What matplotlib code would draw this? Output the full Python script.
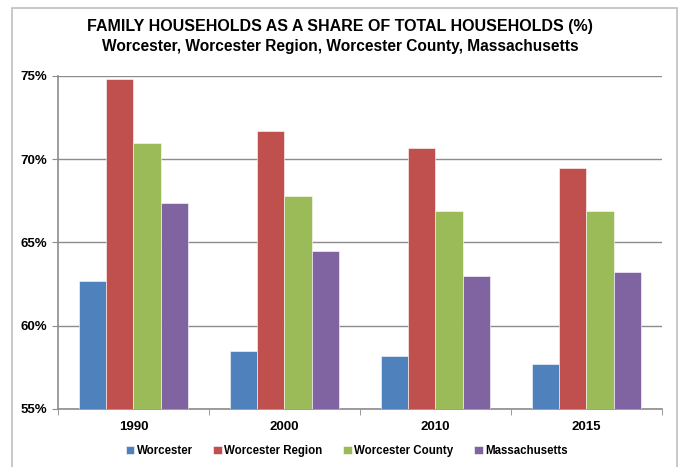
import numpy as np
import matplotlib.pyplot as plt
from matplotlib.patches import Rectangle
from matplotlib.ticker import FuncFormatter

years = ["1990", "2000", "2010", "2015"]
series_names = ["Worcester", "Worcester Region", "Worcester County", "Massachusetts"]
worcester = [62.7, 58.5, 58.2, 57.7]
worcester_region = [74.8, 71.7, 70.7, 69.5]
worcester_county = [71.0, 67.8, 66.9, 66.9]
massachusetts = [67.4, 64.5, 63.0, 63.2]
colors = ["#4F81BD", "#C0504D", "#9BBB59", "#8064A2"]

plt.rcParams['font.family'] = ['Liberation Sans', 'DejaVu Sans']

fig = plt.figure(figsize=(6.8, 4.67), dpi=100)
ax = fig.add_axes([0.0853, 0.1242, 0.888, 0.7131])

# light frame round the whole chart
fig.patches.append(Rectangle((12 / 680, -0.05), 665 / 680, 1.05 - 8 / 467,
                             transform=fig.transFigure, fill=False,
                             edgecolor="#bfbfbf", linewidth=1.2))

x = np.arange(len(years))
width = 0.18
all_series = [worcester, worcester_region, worcester_county, massachusetts]
for i, (vals, name, c) in enumerate(zip(all_series, series_names, colors)):
    ax.bar(x + (i - 1.5) * width, vals, width, color=c, label=name,
           edgecolor="white", linewidth=0.4, zorder=3)

ax.set_ylim(55, 75)
ax.set_xlim(-0.5, len(years) - 0.5)
ax.set_yticks([55, 60, 65, 70, 75])
ax.yaxis.set_major_formatter(FuncFormatter(lambda v, p: f"{v:.0f}%"))
ax.grid(axis="y", color="#8c8c8c", linewidth=1.0, zorder=0)

ax.set_xticks(x)
ax.set_xticklabels(years)
ax.set_xticks(np.arange(len(years) + 1) - 0.5, minor=True)
ax.tick_params(axis="x", which="major", length=0, pad=9)
ax.tick_params(axis="x", which="minor", length=4, color="#8c8c8c", direction="out")
ax.tick_params(axis="y", length=4, color="#8c8c8c", pad=4)
for lab in ax.get_xticklabels() + ax.get_yticklabels():
    lab.set_fontweight("bold")
    lab.set_fontsize(9.5)

for s in ["top", "right"]:
    ax.spines[s].set_visible(False)
for s in ["left", "bottom"]:
    ax.spines[s].set_color("#8c8c8c")
    ax.spines[s].set_linewidth(1.2)

fig.text(0.5, 1 - 27 / 467, "FAMILY HOUSEHOLDS AS A SHARE OF TOTAL HOUSEHOLDS (%)",
         ha="center", va="center", fontsize=11.5, fontweight="bold")
fig.text(0.5, 1 - 47 / 467, "Worcester, Worcester Region, Worcester County, Massachusetts",
         ha="center", va="center", fontsize=11.2, fontweight="bold")

leg = fig.legend(loc="center", bbox_to_anchor=(0.51, 1 - 451 / 467), ncol=4,
                 frameon=False, handlelength=0.75, handleheight=0.75,
                 handletextpad=0.2, columnspacing=1.8,
                 prop={"weight": "bold", "size": 8.3})

fig.savefig("out.png", dpi=100)
